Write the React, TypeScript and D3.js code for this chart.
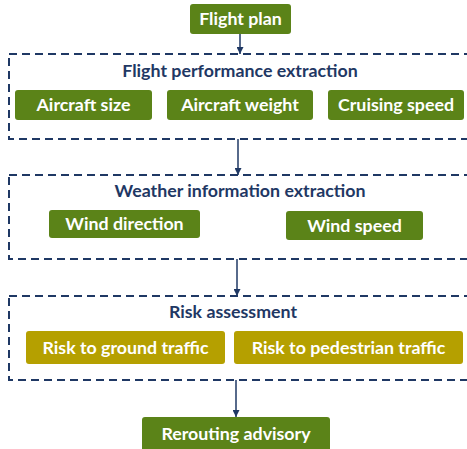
import * as d3 from 'd3';
import { useEffect, useRef } from 'react';

const startLabel = 'Flight plan';
const endLabel = 'Rerouting advisory';
const sectionTitles = ['Flight performance extraction', 'Weather information extraction', 'Risk assessment'];
const sectionItems = [
  ['Aircraft size', 'Aircraft weight', 'Cruising speed'],
  ['Wind direction', 'Wind speed'],
  ['Risk to ground traffic', 'Risk to pedestrian traffic'],
];
const sectionKinds = ['green', 'green', 'olive'];

const colors: Record<string, string> = { green: '#5b8318', olive: '#b5a000' };
const navy = '#1f3864';

// layout of the diagram (px)
const sectionLayout = [
  { top: 54, bottom: 139, titleX: 240, titleY: 71, arrowX: 240 },
  { top: 175, bottom: 259, titleX: 240, titleY: 191, arrowX: 238 },
  { top: 296, bottom: 380, titleX: 233, titleY: 312, arrowX: 237 },
];
const itemLayout = [
  [{ x0: 15, x1: 152, y0: 90, y1: 120 }, { x0: 167, x1: 313, y0: 90, y1: 120 }, { x0: 328, x1: 464, y0: 90, y1: 120 }],
  [{ x0: 49, x1: 200, y0: 210, y1: 238 }, { x0: 286, x1: 423, y0: 211, y1: 240 }],
  [{ x0: 26, x1: 225, y0: 331, y1: 364 }, { x0: 234, x1: 463, y0: 331, y1: 364 }],
];
const startBox = { x0: 190, x1: 291, y0: 4, y1: 34 };
const endBox = { x0: 142, x1: 330, y0: 417, y1: 455 };
const endArrowX = 236;

const font = 'Lato, "Open Sans", sans-serif';
const fontSize = 17.8;

export default function App() {
  const svgRef = useRef<SVGSVGElement>(null);

  useEffect(() => {
    if (!svgRef.current) return;
    const width = 467;
    const height = 449;
    const svg = d3.select(svgRef.current).attr('width', width).attr('height', height);
    svg.selectAll('*').remove();

    svg.append('defs').append('marker')
      .attr('id', 'arr')
      .attr('viewBox', '0 0 10 10')
      .attr('refX', 10).attr('refY', 5)
      .attr('markerWidth', 7).attr('markerHeight', 7)
      .attr('markerUnits', 'userSpaceOnUse')
      .attr('orient', 'auto')
      .append('path').attr('d', 'M0,0L10,5L0,10Z').attr('fill', navy);

    const box = (b: { x0: number; x1: number; y0: number; y1: number }, label: string, fill: string) => {
      const g = svg.append('g');
      g.append('rect')
        .attr('x', b.x0).attr('y', b.y0)
        .attr('width', b.x1 - b.x0).attr('height', b.y1 - b.y0)
        .attr('rx', 3).attr('fill', fill);
      const cy = label === endLabel ? b.y0 + 17 : (b.y0 + b.y1) / 2;
      g.append('text')
        .attr('x', (b.x0 + b.x1) / 2).attr('y', cy)
        .attr('dy', '0.35em')
        .attr('text-anchor', 'middle')
        .attr('fill', '#fff')
        .attr('font-family', font)
        .attr('font-weight', 700)
        .attr('font-size', fontSize)
        .text(label);
    };

    const arrow = (x: number, y0: number, y1: number) => {
      svg.append('line')
        .attr('x1', x).attr('x2', x).attr('y1', y0).attr('y2', y1)
        .attr('stroke', navy).attr('stroke-width', 1.5)
        .attr('marker-end', 'url(#arr)');
    };

    box(startBox, startLabel, colors.green);
    arrow(240, startBox.y1, sectionLayout[0].top);

    sectionTitles.forEach((title, i) => {
      const s = sectionLayout[i];
      svg.append('rect')
        .attr('x', 9).attr('y', s.top)
        .attr('width', 480).attr('height', s.bottom - s.top)
        .attr('fill', 'none')
        .attr('stroke', navy).attr('stroke-width', 2)
        .attr('stroke-dasharray', '8,5');
      svg.append('text')
        .attr('x', s.titleX).attr('y', s.titleY)
        .attr('dy', '0.35em')
        .attr('text-anchor', 'middle')
        .attr('fill', navy)
        .attr('font-family', font)
        .attr('font-weight', 700)
        .attr('font-size', fontSize)
        .text(title);
      sectionItems[i].forEach((label, j) => box(itemLayout[i][j], label, colors[sectionKinds[i]]));
      const nextTop = i < sectionTitles.length - 1 ? sectionLayout[i + 1].top : endBox.y0;
      arrow(i < sectionTitles.length - 1 ? sectionLayout[i + 1].arrowX : endArrowX, s.bottom, nextTop);
    });

    box(endBox, endLabel, colors.green);
  }, []);

  return <svg ref={svgRef} style={{ position: 'absolute', left: 0, top: 0 }} />;
}
